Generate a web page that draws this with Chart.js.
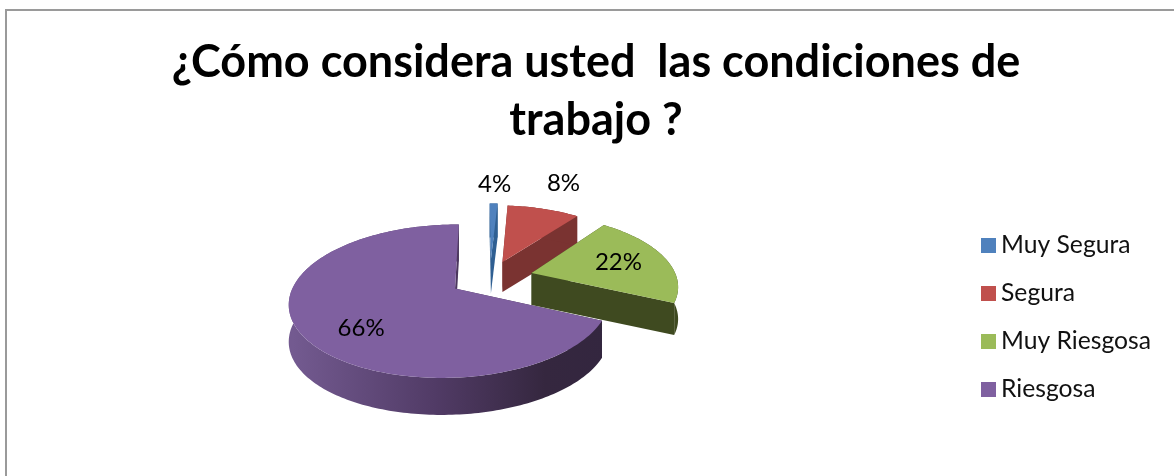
<!DOCTYPE html>
<html lang="es">
<head>
<meta charset="utf-8">
<title>Condiciones de trabajo</title>
<script src="https://cdn.jsdelivr.net/npm/chart.js@4"></script>
<style>
html,body{margin:0;padding:0;background:#fff;overflow:hidden;width:1174px;height:476px}
#frame{position:absolute;left:5px;top:9px;width:1200px;height:480px;border-left:2px solid #9a9a9a;border-top:2px solid #9a9a9a;box-sizing:border-box}
#c{position:absolute;left:6px;top:11px}
</style>
</head>
<body>
<div id="frame"></div>
<canvas id="c" width="1210" height="465"></canvas>
<script>
// Data
const titleLines = ['¿Cómo considera usted  las condiciones de', 'trabajo ?'];
const categories = ['Muy Segura', 'Segura', 'Muy Riesgosa', 'Riesgosa'];
// Printed labels in the reference.
const percentLabels = ['4%', '8%', '22%', '66%'];
// Slice sizes as measured from the drawn arcs: the reference's blue wedge is
// visibly narrower than its printed 4%, so printed labels and arcs are kept apart.
const sliceShares = [1.0, 9.3, 21.7, 68];

// Styles
const topColors = ['#4f81bd', '#c0504d', '#9bbb59', '#7f60a0'];
const sideColors = ['#2f5f92', '#7a3331', '#3f4a20', null];
const sliceOffsets = [37, 34, 39, 36];
const sliceDepths = [34, 30, 32, 37];
const labelReach = [1.42, 1.6, 0.64, 0.71];
const labelTurn = [0, 0, 0, -10];
const view = {ox: 484, oy: 267, rx: 152, ry: 70.6, k: 0.161, j: 0.03};

function project(X, Y) {
  const w = 1 - view.k * Y + view.j * X;
  return [view.ox + view.rx * X / w, view.oy + view.ry * Y / w];
}

function sliceOutline(arc, off) {
  const a0 = arc.startAngle, a1 = arc.endAngle, mid = (a0 + a1) / 2;
  const R = arc.outerRadius, n = off / R;
  const cx = Math.cos(mid) * n, cy = Math.sin(mid) * n;
  const apex = project(cx, cy);
  const rim = [];
  const steps = Math.max(4, Math.ceil((a1 - a0) / 0.02));
  for (let i = 0; i <= steps; i++) {
    const a = a0 + (a1 - a0) * i / steps;
    rim.push(project(cx + Math.cos(a), cy + Math.sin(a)));
  }
  return {apex, rim, cx, cy, mid};
}

function fillPoly(ctx, pts, style) {
  ctx.beginPath();
  pts.forEach((p, j) => j ? ctx.lineTo(p[0], p[1]) : ctx.moveTo(p[0], p[1]));
  ctx.closePath();
  ctx.fillStyle = style;
  ctx.fill();
}

const pie3d = {
  id: 'pie3d',
  afterLayout(chart) {
    const shift = 25;
    chart.legend.left -= shift;
    chart.legend.right -= shift;
  },
  beforeDatasetsDraw(chart) {
    const ctx = chart.ctx;
    const arcs = chart.getDatasetMeta(0).data;
    const purpleSide = ctx.createLinearGradient(view.ox - 197, 0, view.ox + 118, 0);
    purpleSide.addColorStop(0, '#735a90');
    purpleSide.addColorStop(0.45, '#513b66');
    purpleSide.addColorStop(0.8, '#35273f');
    purpleSide.addColorStop(1, '#33263f');
    arcs.forEach((arc, i) => {
      const o = sliceOutline(arc, sliceOffsets[i]);
      const d = sliceDepths[i];
      const side = sideColors[i] || purpleSide;
      const down = p => [p[0], p[1] + d];
      const first = o.rim[0], last = o.rim[o.rim.length - 1];
      fillPoly(ctx, [o.apex, first, down(first), down(o.apex)], side);
      fillPoly(ctx, [o.apex, last, down(last), down(o.apex)], side);
      fillPoly(ctx, o.rim.concat(o.rim.slice().reverse().map(down)), side);
      fillPoly(ctx, [o.apex].concat(o.rim), topColors[i]);
    });
    ctx.fillStyle = '#000';
    ctx.font = '24px Lato';
    ctx.textAlign = 'center';
    ctx.textBaseline = 'middle';
    arcs.forEach((arc, i) => {
      const o = sliceOutline(arc, sliceOffsets[i]);
      const r = labelReach[i];
      const a = o.mid + labelTurn[i] * Math.PI / 180;
      const p = project(o.cx + Math.cos(a) * r, o.cy + Math.sin(a) * r);
      ctx.fillText(percentLabels[i], p[0], p[1]);
    });
    return false;
  }
};

function legendSwatch(color) {
  const s = document.createElement('canvas');
  s.width = 15; s.height = 15;
  const g = s.getContext('2d');
  g.fillStyle = color;
  g.fillRect(0, 0, 15, 15);
  return s;
}

new Chart(document.getElementById('c'), {
  type: 'pie',
  data: {
    labels: categories,
    datasets: [{
      data: sliceShares,
      backgroundColor: topColors,
      borderWidth: 0,
      offset: sliceOffsets
    }]
  },
  options: {
    responsive: false,
    animation: false,
    rotation: -0.5,
    events: [],
    layout: {padding: {right: 30, bottom: 4}},
    plugins: {
      tooltip: {enabled: false},
      title: {
        display: true,
        text: titleLines,
        color: '#000',
        font: {family: 'Lato', weight: 'bold', size: 45, lineHeight: 1.29},
        padding: {top: 22, bottom: 13}
      },
      legend: {
        position: 'right',
        fullSize: false,
        labels: {
          usePointStyle: true,
          boxWidth: 1,
          padding: 23.3,
          color: '#111',
          font: {family: 'Lato', size: 24.7},
          generateLabels(chart) {
            return Chart.overrides.pie.plugins.legend.labels.generateLabels(chart)
              .map((item, i) => Object.assign(item, {pointStyle: legendSwatch(topColors[i])}));
          }
        }
      }
    }
  },
  plugins: [pie3d]
});
</script>
</body>
</html>
